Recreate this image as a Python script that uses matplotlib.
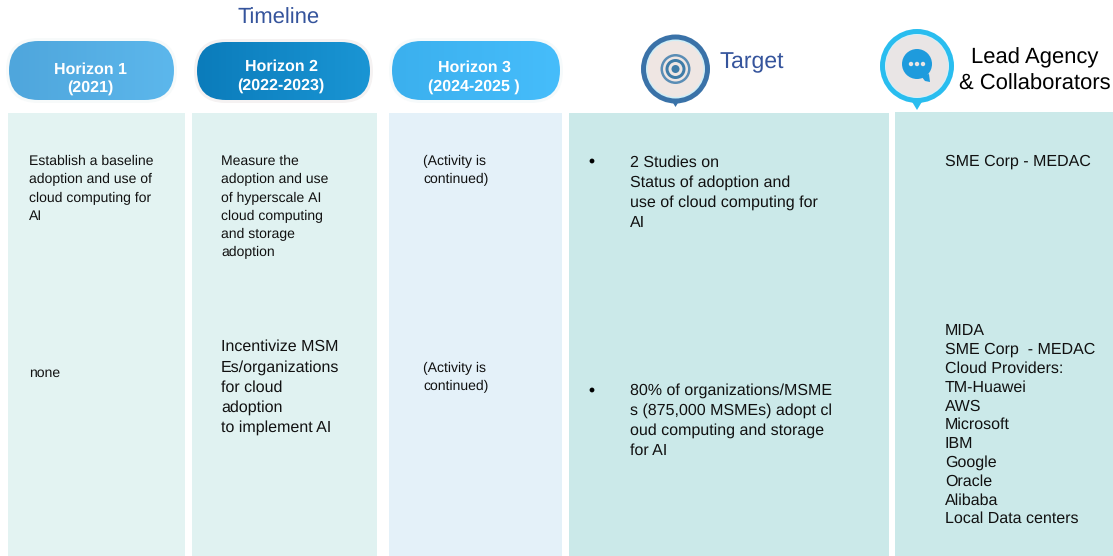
import matplotlib
matplotlib.use("Agg")
import matplotlib.pyplot as plt
from matplotlib.patches import Rectangle, FancyBboxPatch, Circle, Polygon
import numpy as np

plt.rcParams['font.family'] = ['Liberation Sans', 'DejaVu Sans']
plt.rcParams['text.hinting'] = 'no_hinting'
plt.rcParams['text.hinting_factor'] = 1

horizons = [["Horizon 1", "(2021)"], ["Horizon 2", "(2022-2023)"], ["Horizon 3", "(2024-2025 )"]]
h1_text = [["Establish a baseline", "adoption and use of", "cloud computing for", "AI"], ["none"]]
h2_text = [["Measure the", "adoption and use", "of hyperscale AI", "cloud computing", "and storage", "adoption"],
           ["Incentivize MSM", "Es/organizations", "for cloud", "adoption", "to implement AI"]]
h3_text = [["(Activity is", "continued)"], ["(Activity is", "continued)"]]
target_text = [["2 Studies on", "Status of adoption and", "use of cloud computing for", "AI"],
               ["80% of organizations/MSME", "s (875,000 MSMEs) adopt cl", "oud computing and storage", "for AI"]]
agency_text = [["SME Corp - MEDAC"],
               ["MIDA", "SME Corp  - MEDAC", "Cloud Providers:", "TM-Huawei", "AWS", "Microsoft", "IBM",
                "Google", "Oracle", "Alibaba", "Local Data centers"]]

W, H = 1113, 556
fig = plt.figure(figsize=(W/100, H/100), dpi=100)
ax = fig.add_axes([0, 0, 1, 1])
ax.set_xlim(0, W); ax.set_ylim(H, 0); ax.axis('off')

cols = [(8,185,'#e3f3f2',113),(192,377,'#e0f2f1',113),(389,562,'#e4f1f9',113),(569,889,'#cbe9e9',113),(895,1113,'#cbe9e9',112)]
for x0,x1,c,y0 in cols:
    ax.add_patch(Rectangle((x0,y0),x1-x0,H-y0,fc=c,ec='none'))

def grad_pill(x0,x1,y0,y1,c0,c1,halo):
    r=(y1-y0)/2
    ax.add_patch(FancyBboxPatch((x0-3,y0-3),x1-x0+6,y1-y0+6,boxstyle=f"round,pad=0,rounding_size={r+3}",fc=halo,ec='none'))
    p=FancyBboxPatch((x0,y0),x1-x0,y1-y0,boxstyle=f"round,pad=0,rounding_size={r}",fc='none',ec='none')
    ax.add_patch(p)
    g=np.linspace(0,1,64).reshape(1,-1,1)
    a=np.array(matplotlib.colors.to_rgb(c0)).reshape(1,1,3); b=np.array(matplotlib.colors.to_rgb(c1)).reshape(1,1,3)
    im=ax.imshow(a+(b-a)*g,extent=(x0,x1,y1,y0),aspect='auto',zorder=2)
    im.set_clip_path(p)

grad_pill(9,174,41,100,'#4fa6dc','#5cb7ec','#f7fafa')
grad_pill(197,370,42,100,'#0b7cbb','#1a95d4','#f5f2f2')
grad_pill(392,560,41,100,'#3bb0ee','#46bdfb','#f6fafb')
ax.set_xlim(0,W); ax.set_ylim(H,0)

def lines(x,ys,ss,fs,**kw):
    px=fs*100/72
    kw.setdefault('color','#111111'); kw.setdefault('ha','left')
    for y,s in zip(ys,ss):
        ax.text(x,y+0.36*px,s,fontsize=fs,va='baseline',zorder=3,**kw)

for s,x,ys in zip(horizons,[90,281,474],[(68,86),(65,84),(66,85)]):
    lines(x,ys,s,11.2,color='white',fontweight='bold',ha='center')

lines(279,[16],["Timeline"],16,color='#35549c',ha='center')
lines(719.5,[60.5],["Target"],16.4,color='#35549c')
lines(1034.5,[56,82],["Lead Agency","& Collaborators"],15.6,color='black',ha='center')

# target icon
ax.add_patch(Polygon([[670,98],[681,98],[675.5,107]],fc='#3a72a8',ec='none'))
ax.add_patch(Circle((675.5,69),34.5,fc='#3a72a8',ec='none'))
ax.add_patch(Circle((675.5,69),29.5,fc='#cfeef7',ec='none'))
ax.add_patch(Circle((675.5,69),28,fc='#efe6e3',ec='none'))
for r,c in [(15,'#5a8db5'),(12.5,'#efe6e3'),(10,'#3f7ca8'),(7,'#efe6e3'),(4,'#3f7ca8')]:
    ax.add_patch(Circle((675.5,69),r,fc=c,ec='none'))
# agency icon
ax.add_patch(Polygon([[911,100],[923,100],[917,110]],fc='#29bdef',ec='none'))
ax.add_patch(Circle((917,66),37,fc='#29bdef',ec='none'))
ax.add_patch(Circle((917,66),32,fc='#d8f0f8',ec='none'))
ax.add_patch(Circle((917,66),31,fc='#e9e5e5',ec='none'))
ax.add_patch(Polygon([[921,76],[925,81],[930,82],[929,74]],fc='#1e9bdd',ec='none'))
ax.add_patch(Circle((917,64),15,fc='#1e9bdd',ec='none'))
for dx in (-6,0,6):
    ax.add_patch(Circle((917+dx,64),2.2,fc='#e9e5e5',ec='none'))

small=10.25; big=11.2
lines(29,[160,178,197,215],h1_text[0],small)
lines(29,[372],h1_text[1],small)
lines(221,[160,178,197,215,233,251],h2_text[0],small)
lines(221,[345,366,386,406,426],h2_text[1],big)
lines(423,[160,178],h3_text[0],small)
lines(423,[367,385],h3_text[1],small)
lines(630,[161,181,201,221],target_text[0],big)
lines(630,[389,409,429,449],target_text[1],big)
lines(945,[160],agency_text[0],big)
lines(945,[329,348,367,386,405,423,442,461,480,499,517],agency_text[1],big)
for y in (161,390):
    ax.add_patch(Circle((592,y),2.4,fc='black',ec='none'))

fig.savefig("out.png",dpi=100)
